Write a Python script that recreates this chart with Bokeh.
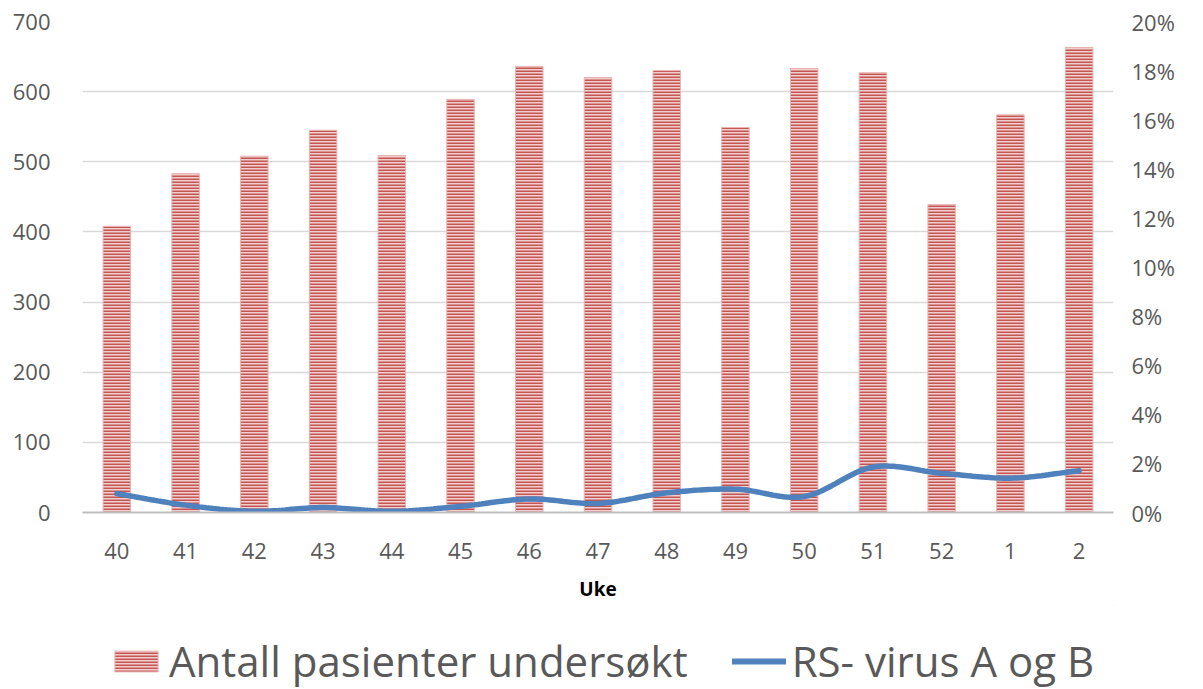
import numpy as np
from bokeh.plotting import figure
from bokeh.layouts import column
from bokeh.models import Range1d, LinearAxis, FixedTicker, NumeralTickFormatter, Legend, LegendItem
from bokeh.embed import file_html
from bokeh.resources import INLINE

weeks = ["40", "41", "42", "43", "44", "45", "46", "47", "48", "49", "50", "51", "52", "1", "2"]
antall = [408, 483, 508, 545, 509, 589, 636, 620, 630, 549, 633, 627, 439, 567, 663]
rsv = [0.0077, 0.0030, 0.0005, 0.0020, 0.0005, 0.0025, 0.0055, 0.0037, 0.0080, 0.0095, 0.0065, 0.0185, 0.0160, 0.0140, 0.0170]

FONT = "Open Sans"
GREY = "#595959"
BAR_STYLE = dict(fill_color="#f1cfce", line_color="#e8b4b3", line_width=1,
                 hatch_pattern="horizontal_line", hatch_color="#c55552", hatch_scale=3.0, hatch_weight=2.0)
LINE_STYLE = dict(line_color="#4f81bd", line_width=5.5, line_cap="round")

xs = np.arange(len(weeks))

p = figure(width=1203, height=605, output_backend="svg", toolbar_location=None,
           x_range=Range1d(-0.5, len(weeks) - 0.5), y_range=Range1d(0, 700),
           min_border_left=82, min_border_right=90, min_border_top=21, min_border_bottom=93)
p.outline_line_color = None
p.background_fill_color = "white"
p.border_fill_color = "white"

p.extra_y_ranges = {"pct": Range1d(0, 0.20)}

bars = p.vbar(x=xs, top=antall, width=0.4, **BAR_STYLE)

# smooth curve (Catmull-Rom) through the observed points
def catmull(x, y, n=20):
    px, py = [], []
    x = np.asarray(x, float); y = np.asarray(y, float)
    xe = np.concatenate([[2 * x[0] - x[1]], x, [2 * x[-1] - x[-2]]])
    ye = np.concatenate([[2 * y[0] - y[1]], y, [2 * y[-1] - y[-2]]])
    for i in range(1, len(xe) - 2):
        t = np.linspace(0, 1, n, endpoint=False)
        for arr, out in ((xe, px), (ye, py)):
            p0, p1, p2, p3 = arr[i - 1], arr[i], arr[i + 1], arr[i + 2]
            out.extend(0.5 * ((2 * p1) + (-p0 + p2) * t + (2 * p0 - 5 * p1 + 4 * p2 - p3) * t ** 2
                              + (-p0 + 3 * p1 - 3 * p2 + p3) * t ** 3))
    px.append(x[-1]); py.append(y[-1])
    return px, py

sx, sy = catmull(xs, rsv)
p.line(sx, sy, y_range_name="pct", **LINE_STYLE)

# axes
p.xaxis.ticker = FixedTicker(ticks=list(xs))
p.xaxis.major_label_overrides = {int(i): w for i, w in zip(xs, weeks)}
p.xaxis.axis_label = "Uke"
p.xaxis.axis_label_text_font = FONT
p.xaxis.axis_label_text_font_style = "bold"
p.xaxis.axis_label_text_font_size = "19px"
p.xaxis.axis_label_text_color = "black"
p.xaxis.axis_label_standoff = 14
p.xaxis.axis_line_color = "#bfbfbf"
p.xaxis.axis_line_width = 2
p.xaxis.major_tick_line_color = None
p.xaxis.minor_tick_line_color = None
p.xaxis.major_label_text_font = FONT
p.xaxis.major_label_text_font_size = "22px"
p.xaxis.major_label_text_color = GREY
p.xaxis.major_label_standoff = 24

p.yaxis.ticker = FixedTicker(ticks=list(range(0, 701, 100)))
p.yaxis.axis_line_color = None
p.yaxis.major_tick_line_color = None
p.yaxis.minor_tick_line_color = None
p.yaxis.major_label_text_font = FONT
p.yaxis.major_label_text_font_size = "22px"
p.yaxis.major_label_text_color = GREY
p.yaxis.major_label_standoff = 26

ra = LinearAxis(y_range_name="pct", ticker=FixedTicker(ticks=[i / 100 for i in range(0, 21, 2)]),
                formatter=NumeralTickFormatter(format="0%"))
ra.axis_line_color = None
ra.major_tick_line_color = None
ra.minor_tick_line_color = None
ra.major_label_text_font = FONT
ra.major_label_text_font_size = "22px"
ra.major_label_text_color = GREY
ra.major_label_standoff = 12
p.add_layout(ra, "right")

p.xgrid.grid_line_color = None
p.ygrid.grid_line_color = "#d9d9d9"
p.ygrid.grid_line_width = 1.5

# legend strip (its frame is aligned with the main frame by the column layout)
lg = figure(width=1203, height=84, output_backend="svg", toolbar_location=None,
            x_range=Range1d(0, 1), y_range=Range1d(0, 1),
            min_border=0, outline_line_color=None)
lg.axis.visible = False
lg.grid.visible = False
lb = lg.vbar(x=[5], top=[5], bottom=[4], width=0.4, **BAR_STYLE)
ll = lg.line(x=[5, 6], y=[5, 5], **dict(LINE_STYLE, line_width=6))
legend = Legend(items=[LegendItem(label="Antall pasienter undersøkt", renderers=[lb]),
                       LegendItem(label="RS- virus A og B", renderers=[ll])],
                orientation="horizontal", location=(27, 0),
                label_text_font=FONT, label_text_font_size="42px", label_text_color=GREY,
                label_height=48,
                glyph_width=54, glyph_height=26, label_standoff=6, spacing=44,
                border_line_color=None, background_fill_alpha=0, margin=0, padding=0)
lg.add_layout(legend, "center")

layout = column(p, lg, spacing=0)
open("out.html", "w").write(file_html(layout, INLINE))
